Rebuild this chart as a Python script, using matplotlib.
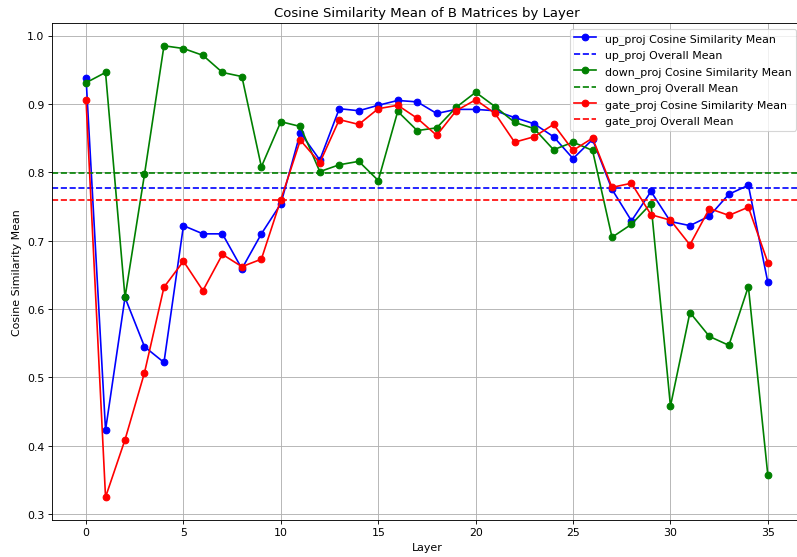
import numpy as np
import matplotlib
matplotlib.use('Agg')
import matplotlib.pyplot as plt

# Per-layer cosine similarity means of the B matrices
layers = list(range(36))

up_proj = [0.938, 0.423, 0.617, 0.545, 0.522, 0.722, 0.710, 0.710, 0.659, 0.710,
           0.754, 0.858, 0.818, 0.893, 0.890, 0.898, 0.905, 0.903, 0.886, 0.892,
           0.892, 0.890, 0.880, 0.871, 0.852, 0.820, 0.848, 0.775, 0.729, 0.772,
           0.728, 0.722, 0.736, 0.768, 0.781, 0.639]

down_proj = [0.931, 0.946, 0.617, 0.797, 0.985, 0.981, 0.971, 0.946, 0.940, 0.808,
             0.874, 0.867, 0.801, 0.811, 0.816, 0.788, 0.889, 0.861, 0.865, 0.895,
             0.917, 0.896, 0.873, 0.864, 0.833, 0.844, 0.832, 0.705, 0.724, 0.754,
             0.458, 0.595, 0.560, 0.547, 0.633, 0.357]

gate_proj = [0.905, 0.325, 0.409, 0.507, 0.632, 0.670, 0.627, 0.680, 0.662, 0.673,
             0.760, 0.847, 0.814, 0.877, 0.870, 0.893, 0.898, 0.879, 0.854, 0.890,
             0.906, 0.886, 0.844, 0.852, 0.870, 0.832, 0.850, 0.778, 0.784, 0.738,
             0.730, 0.694, 0.747, 0.737, 0.749, 0.668]

# 10x7 inch figure rendered at a reduced dpi
fig = plt.figure(figsize=(10, 7), dpi=79.7)
ax = fig.add_axes([0.0652, 0.0668, 0.941, 0.890])

for name, vals, color in [('up_proj', up_proj, 'blue'),
                          ('down_proj', down_proj, 'green'),
                          ('gate_proj', gate_proj, 'red')]:
    ax.plot(layers, vals, marker='o', color=color, label=f'{name} Cosine Similarity Mean')
    ax.axhline(np.mean(vals), color=color, linestyle='--', label=f'{name} Overall Mean')

ax.set_title('Cosine Similarity Mean of B Matrices by Layer')
ax.set_xlabel('Layer')
ax.set_ylabel('Cosine Similarity Mean')
ax.legend(loc='upper right')
ax.grid(True)

fig.savefig('out.png', dpi=79.7)
